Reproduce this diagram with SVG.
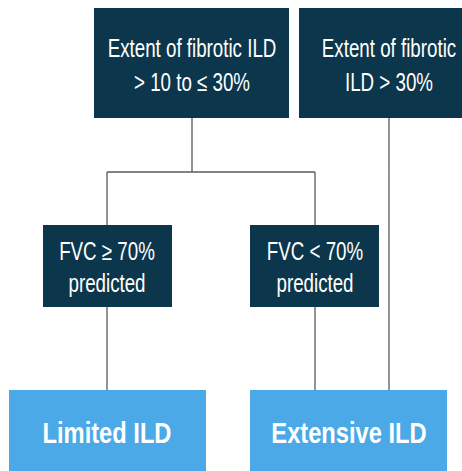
<svg xmlns="http://www.w3.org/2000/svg" width="462" height="471" viewBox="0 0 462 471">
<style>
.dark{fill:#0c364b}
.light{fill:#4aa9e6}
.t{font-family:"Liberation Sans",Arial,sans-serif;fill:#ffffff;text-anchor:middle}
.s{font-size:25px}
.b{font-size:30px;font-weight:bold}
.c{stroke:#5a5a5a;stroke-width:1.3;fill:none}
</style>
<rect width="462" height="471" fill="#ffffff"/>
<g id="connectors">
<path class="c" d="M192,118 V172 M107,172 H315 M107,172 V226 M315,172 V226 M107,307 V391 M315,307 V391 M389,118 V391"/>
</g>
<g id="top-left">
<rect class="dark" x="94" y="8" width="195" height="110"/>
<g transform="translate(192,0) scale(0.75,1)">
<text class="t s" x="0" y="57">Extent of fibrotic ILD</text>
<text class="t s" x="0" y="91">&gt; 10 to ≤ 30%</text>
</g>
</g>
<g id="top-right">
<rect class="dark" x="299" y="8" width="163" height="110"/>
<g transform="translate(389,0) scale(0.75,1)">
<text class="t s" x="0" y="57">Extent of fibrotic</text>
<text class="t s" x="0" y="91">ILD &gt; 30%</text>
</g>
</g>
<g id="fvc-high">
<rect class="dark" x="43" y="225" width="129" height="82"/>
<g transform="translate(107,0) scale(0.75,1)">
<text class="t s" x="0" y="260">FVC ≥ 70%</text>
<text class="t s" x="0" y="292">predicted</text>
</g>
</g>
<g id="fvc-low">
<rect class="dark" x="250" y="225" width="129" height="82"/>
<g transform="translate(315,0) scale(0.75,1)">
<text class="t s" x="0" y="260">FVC &lt; 70%</text>
<text class="t s" x="0" y="292">predicted</text>
</g>
</g>
<g id="limited">
<rect class="light" x="9" y="390" width="197" height="81"/>
<g transform="translate(107,0) scale(0.79,1)">
<text class="t b" x="0" y="443">Limited ILD</text>
</g>
</g>
<g id="extensive">
<rect class="light" x="250" y="390" width="197" height="81"/>
<g transform="translate(349,0) scale(0.79,1)">
<text class="t b" x="0" y="443">Extensive ILD</text>
</g>
</g>
</svg>
